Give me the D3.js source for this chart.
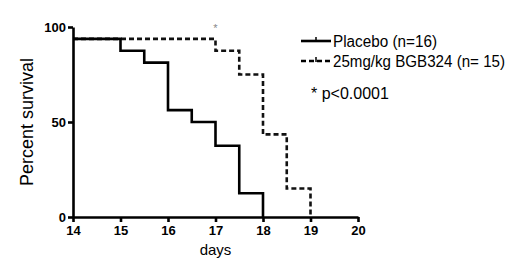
<!DOCTYPE html>
<html>
<head>
<meta charset="utf-8">
<script src="https://cdn.jsdelivr.net/npm/d3@7"></script>
<style>
  body { margin: 0; background: #fff; }
  text { font-family: "Liberation Sans", Arial, sans-serif; }
</style>
</head>
<body>
<svg id="chart-area"></svg>
<script>
// step points: [day, percent]
const placeboDays = [14, 15, 15.5, 16, 16.5, 17, 17.5, 18]
const placeboSurv = [93.75, 87.5, 81.25, 56.25, 50, 37.5, 12.5, 0]
const bgbDays = [14, 17, 17.5, 18, 18.5, 19]
const bgbSurv = [93.75, 87.5, 75, 43.5, 15, 0]
const xTicks = [14, 15, 16, 17, 18, 19, 20]
const yTicks = [0, 50, 100]
const legendLabels = ["Placebo (n=16)", "25mg/kg BGB324 (n= 15)"]
const noteText = "* p<0.0001"

function drawChart() {
    const svgWidth = 520
    const svgHeight = 277
    const margin = { left: 73, top: 27 }
    const chartWidth = 285
    const chartHeight = 190

    const svg = d3.select("#chart-area")
        .attr("width", svgWidth)
        .attr("height", svgHeight)

    const chart = svg.append("g")
        .attr("transform", `translate(${margin.left},${margin.top})`)

    const xScale = d3.scaleLinear().domain([14, 20]).range([0, chartWidth])
    const yScale = d3.scaleLinear().domain([0, 100]).range([chartHeight, 0])

    const line = d3.line()
        .x(d => xScale(d[0]))
        .y(d => yScale(d[1]))
        .curve(d3.curveStepAfter)

    const placebo = d3.zip(placeboDays, placeboSurv)
    const bgb = d3.zip(bgbDays, bgbSurv)

    chart.append("path")
        .datum(bgb)
        .attr("fill", "none")
        .attr("stroke", "#111")
        .attr("stroke-width", 2.6)
        .attr("stroke-dasharray", "5,3")
        .attr("d", line)

    chart.append("path")
        .datum(placebo)
        .attr("fill", "none")
        .attr("stroke", "#000")
        .attr("stroke-width", 2.6)
        .attr("d", line)

    // axes
    const xAxis = chart.append("g")
        .attr("transform", `translate(0,${chartHeight})`)
        .call(d3.axisBottom(xScale).tickValues(xTicks).tickFormat(d3.format("d"))
            .tickSize(5).tickSizeOuter(0).tickPadding(4))
    const yAxis = chart.append("g")
        .call(d3.axisLeft(yScale).tickValues(yTicks).tickFormat(d3.format("d"))
            .tickSize(5).tickSizeOuter(0).tickPadding(2))

    ;[xAxis, yAxis].forEach(g => {
        g.select(".domain").attr("stroke", "#000").attr("stroke-width", 2.6)
        g.selectAll(".tick line").attr("stroke", "#000").attr("stroke-width", 2.6)
        g.selectAll(".tick text")
            .attr("fill", "#000")
            .style("font-family", "'Liberation Sans', Arial, sans-serif")
            .style("font-size", "13px")
            .style("font-weight", "bold")
    })

    chart.append("text")
        .attr("x", xScale(17))
        .attr("y", 5)
        .attr("text-anchor", "middle")
        .attr("fill", "#888")
        .style("font-size", "11px")
        .text("*")

    // axis titles
    svg.append("text")
        .attr("x", margin.left + xScale(17))
        .attr("y", 255)
        .attr("text-anchor", "middle")
        .style("font-size", "15px")
        .text("days")

    svg.append("text")
        .attr("transform", `translate(33,${margin.top + yScale(50)}) rotate(-90)`)
        .attr("text-anchor", "middle")
        .style("font-size", "18px")
        .text("Percent survival")

    // legend
    const legend = svg.append("g").attr("transform", "translate(301,41)")
    const rows = legend.selectAll("g")
        .data(legendLabels)
        .enter().append("g")
        .attr("transform", (d, i) => `translate(0,${i * 20})`)
    rows.append("line")
        .attr("x1", 0).attr("x2", 30)
        .attr("stroke", "#000")
        .attr("stroke-width", 2.6)
        .attr("stroke-dasharray", (d, i) => i === 0 ? null : "5,3")
    rows.append("line")
        .attr("x1", 15).attr("x2", 15)
        .attr("y1", -4).attr("y2", 1)
        .attr("stroke", "#000")
        .attr("stroke-width", 1.5)
    rows.append("text")
        .attr("x", 32)
        .attr("y", 6)
        .style("font-size", "16px")
        .attr("textLength", (d, i) => i === 0 ? 104 : 172)
        .attr("lengthAdjust", "spacingAndGlyphs")
        .text(d => d)

    svg.append("text")
        .attr("x", 311)
        .attr("y", 99)
        .style("font-size", "16px")
        .text(noteText)
}

drawChart()
</script>
</body>
</html>
